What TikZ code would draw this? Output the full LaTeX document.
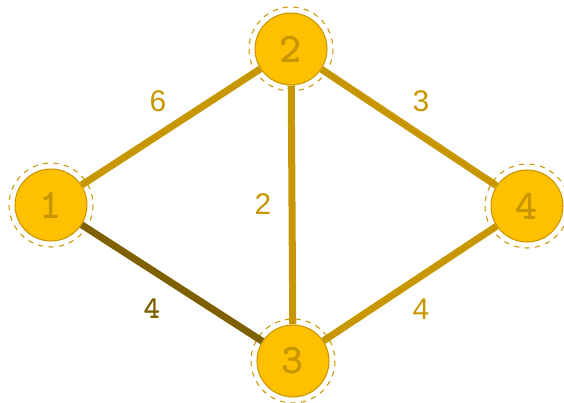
\documentclass[tikz,border=0pt]{standalone}
\usepackage{fontspec}
\setsansfont{Liberation Sans}
\definecolor{gold}{HTML}{FFC000}
\definecolor{edgegold}{HTML}{C89600}
\definecolor{darkgold}{HTML}{7F6000}
\tikzset{
  vertex/.style={circle, fill=gold, draw=edgegold, line width=0.6pt, minimum size=1.44cm, inner sep=0pt,
    text=edgegold, font=\fontsize{24}{24}\selectfont\ttfamily\bfseries},
  ring/.style={draw=edgegold, dashed, line width=0.6pt},
  link/.style={draw=edgegold, line width=4pt},
  weight/.style={text=edgegold, font=\fontsize{17}{17}\selectfont\sffamily}
}
\begin{document}
\begin{tikzpicture}[x=0.02cm, y=-0.02cm]
\useasboundingbox (0,0) rectangle (564,402);
\node[vertex] (v1) at (51,205) {1};
\node[vertex] (v2) at (291,49) {2};
\node[vertex] (v3) at (293,361) {3};
\node[vertex] (v4) at (527,206) {4};
\foreach \v in {v1,v2,v3,v4}
  \draw[ring] (\v) circle (42);
\draw[link] (v1) -- (v2);
\draw[link] (v2) -- (v3);
\draw[link] (v2) -- (v4);
\draw[link] (v3) -- (v4);
\draw[link, draw=darkgold] (v1) -- (v3);
\node[weight] (w12) at (158,101) {6};
\node[weight] (w24) at (421,101) {3};
\node[weight] (w23) at (263,204) {2};
\node[weight, text=darkgold, font=\fontsize{18}{18}\selectfont\ttfamily\bfseries] (w13) at (152,309) {4};
\node[weight] (w34) at (421,309) {4};
\end{tikzpicture}
\end{document}
